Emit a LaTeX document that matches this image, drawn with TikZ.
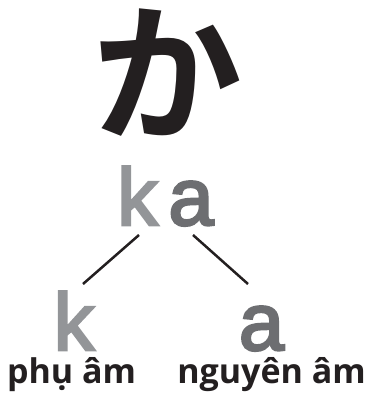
\documentclass[tikz,border=0pt]{standalone}
\usepackage{fontspec}
\setmainfont{Liberation Sans}
\newfontfamily\letterfont{Liberation Sans}[FakeBold=3.2]
\newfontfamily\cjkfont{Noto Sans CJK JP}[BoldFont=* Bold]
\newfontfamily\lblfont{Open Sans}
\usetikzlibrary{calc}
\definecolor{inkblack}{HTML}{231F20}
\definecolor{lightgrey}{HTML}{939598}
\definecolor{darkgrey}{HTML}{6D6E71}
\begin{document}
\begin{tikzpicture}[x=1pt,y=-1pt,
  letter/.style={inner sep=0pt,anchor=base,font=\letterfont\fontsize{81}{90}\selectfont},
  lbl/.style={inner sep=0pt,anchor=base,text=inkblack,font=\lblfont\bfseries\fontsize{34}{40}\selectfont},
  branch/.style={draw=inkblack,line width=2.5pt}]
\useasboundingbox (0,0) rectangle (367,395);
\node[inner sep=0pt,anchor=base,text=inkblack,font=\cjkfont\bfseries\fontsize{150}{160}\selectfont] (hira) at (167,130) {か};
\node[letter,text=lightgrey] (topk) at (137.5,225) {k};
\node[letter,text=darkgrey] (topa) at (191,225) {a};
\node[letter,text=lightgrey] (botk) at (74,350) {k};
\node[letter,text=darkgrey] (bota) at (261.5,350) {a};
\node[lbl] (lk) at (71.5,383) {phụ âm};
\node[lbl] (la) at (271.5,383) {nguyên âm};
\draw[branch] ($(topk.base)+(1.5,10)$) -- ($(botk.base)+(9,-66)$);
\draw[branch] ($(topa.base)+(2,10)$) -- ($(bota.base)+(-13.5,-66)$);
\end{tikzpicture}
\end{document}
